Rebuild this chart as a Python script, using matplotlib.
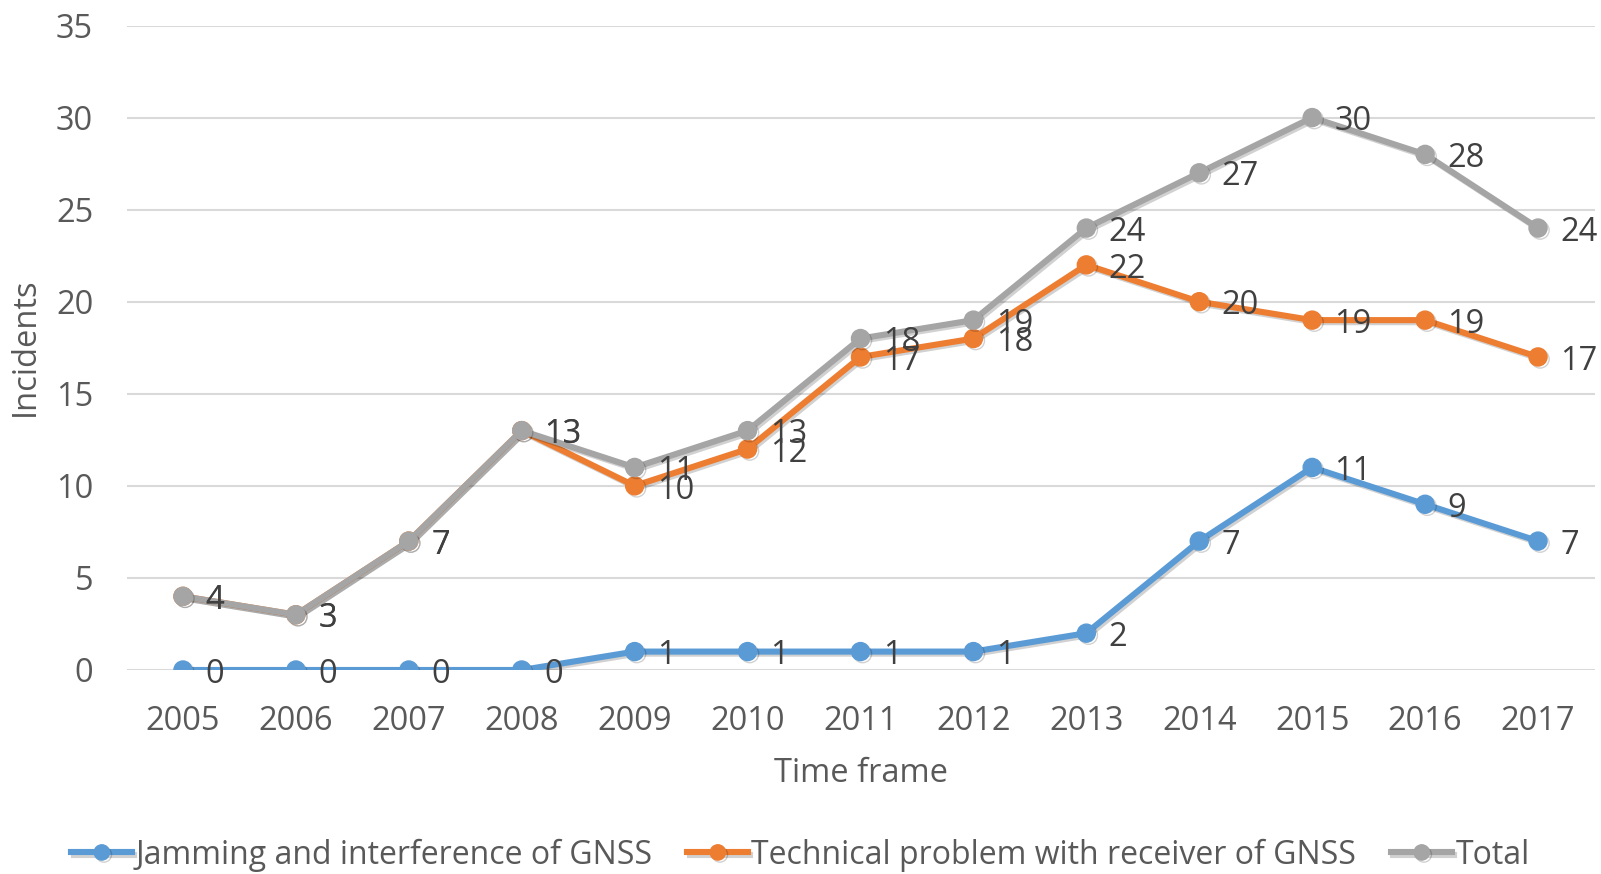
import matplotlib
matplotlib.use("Agg")
import matplotlib.pyplot as plt
import matplotlib.patheffects as pe

plt.rcParams['font.family'] = ['Open Sans', 'DejaVu Sans']

years = ["2005", "2006", "2007", "2008", "2009", "2010", "2011", "2012", "2013",
         "2014", "2015", "2016", "2017"]
jamming = [0, 0, 0, 0, 1, 1, 1, 1, 2, 7, 11, 9, 7]
technical = [4, 3, 7, 13, 10, 12, 17, 18, 22, 20, 19, 19, 17]
total = [4, 3, 7, 13, 11, 13, 18, 19, 24, 27, 30, 28, 24]

series = [
    ("Jamming and interference of GNSS", jamming, "#5B9BD5"),
    ("Technical problem with receiver of GNSS", technical, "#ED7D31"),
    ("Total", total, "#A5A5A5"),
]

W, H = 1601, 874
fig = plt.figure(figsize=(W / 100, H / 100), dpi=100)
ax = fig.add_axes([126.5 / W, 1 - 670 / H, (1594.5 - 126.5) / W, (670 - 25.5) / H])

x = list(range(len(years)))
shadow = [pe.SimpleLineShadow(offset=(1.5, -1.5), shadow_color="k", alpha=0.18), pe.Normal()]
for name, vals, col in series:
    ax.plot(x, vals, color=col, lw=4.4, marker="o", ms=13, mec=col, mfc=col,
            label=name, path_effects=shadow, zorder=3, solid_joinstyle="round")
    for xi, v in zip(x, vals):
        ax.annotate(str(v), (xi, v), xytext=(16, -3), textcoords="offset points",
                    ha="left", va="center", fontsize=23.5, color="#404040", zorder=5)

ax.set_xlim(-0.5, len(years) - 0.5)
ax.set_ylim(0, 35)
ax.set_yticks(range(0, 36, 5))
ax.set_xticks(x)
ax.set_xticklabels(years)
ax.grid(axis="y", color="#D9D9D9", lw=1.5)
ax.set_axisbelow(True)
for s in ax.spines.values():
    s.set_visible(False)
ax.tick_params(axis="both", length=0, labelsize=23.5, labelcolor="#595959")
ax.tick_params(axis="y", pad=24)
ax.tick_params(axis="x", pad=25)
ax.set_xlabel("Time frame", fontsize=23.5, color="#595959", labelpad=14)
fig.text(25.5 / W, 1 - 347 / H, "Incidents", rotation=90, ha="center", va="center",
         fontsize=23.5, color="#595959")

handles, labels = ax.get_legend_handles_labels()
leg = fig.legend(handles, labels, loc="center", bbox_to_anchor=(0.5, 1 - 855 / H), ncol=3,
                 frameon=False, fontsize=23, handlelength=1.9, handletextpad=0.1,
                 columnspacing=1.1, labelcolor="#595959")
for h in leg.legend_handles:
    h.set_markersize(11)

fig.savefig("out.png", dpi=100)
